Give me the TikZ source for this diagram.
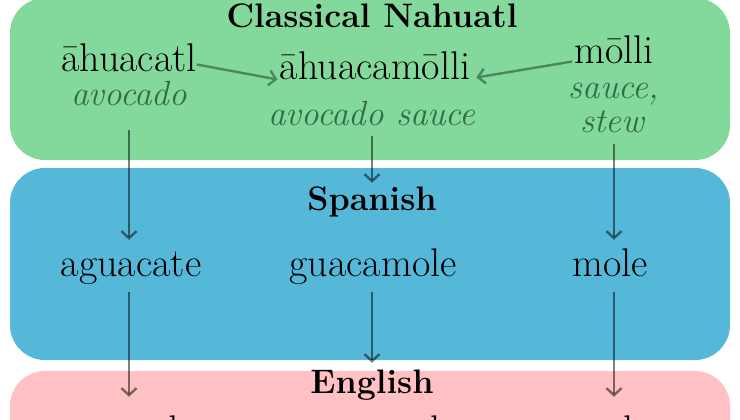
\documentclass[tikz,border=0pt]{standalone}
\usepackage{fontspec}
\usetikzlibrary{
    arrows.meta,
    positioning
}
\definecolor{nahuatl green}{RGB}{131,217,155}
\definecolor{spanish blue}{RGB}{86,184,217}
\definecolor{english pink}{RGB}{255,193,195}
\definecolor{gloss green}{RGB}{50,108,70}
\definecolor{compound green}{RGB}{74,136,95}
\tikzset{
    % Bands
    lang band/.style={rounded corners=35pt,draw=none},
    %
    % Texts
    lang label/.style={font=\fontsize{34}{38}\selectfont\bfseries,inner sep=0pt,anchor=base,text height=24pt,text depth=7pt},
    word/.style={font=\fontsize{40}{44}\selectfont,inner sep=0pt,anchor=base,text height=28pt,text depth=9pt},
    gloss/.style={font=\fontsize{35}{38}\selectfont\itshape,text=gloss green,inner sep=0pt,anchor=base,text height=19pt,text depth=7pt},
    %
    % Arrows
    arrow tip/.tip={Straight Barb[length=7pt,width=15pt,line width=2.4pt]},
    arr/.style={->,>={arrow tip},line width=2.4pt},
    compound arr/.style={arr,draw=compound green},
    descent arr/.style={arr,draw=black,draw opacity=.5}
}

\begin{document}
\begin{tikzpicture}[x=1pt,y=-1pt]
    \useasboundingbox (0,0) rectangle (740,420);
    % language bands
    \fill[lang band,nahuatl green] (10,-2) rectangle (730,160);
    \fill[lang band,spanish blue] (10,168) rectangle (730,360);
    \fill[lang band,english pink] (10,371) rectangle (730,540);
    %
    % Classical Nahuatl
    \node[lang label] (nahuatl) at (372,28) {Classical Nahuatl};
    \node[word] (ahuacatl) at (129,72) {āhuacatl};
    \node[word] (ahuacamolli) at (375,80) {āhuacamōlli};
    \node[word] (molli) at (614,64) {mōlli};
    \node[gloss] (avocado gloss) at (129,106) {avocado};
    \node[gloss] (sauce gloss) at (372,126) {avocado sauce};
    \node[gloss] (molli gloss) at (614,99) {sauce,};
    \node[gloss] (stew gloss) at (612,132) {stew};
    \draw[compound arr] ([yshift=-2pt]ahuacatl.east) -- ([xshift=-2pt,yshift=-9pt]ahuacamolli.west);
    \draw[compound arr] ([xshift=-2pt,yshift=-7pt]molli.west) -- ([xshift=6pt,yshift=-7pt]ahuacamolli.east);
    %
    % Spanish
    \node[lang label] (spanish) at (372,210) {Spanish};
    \node[word] (aguacate) at (131,276) {aguacate};
    \node[word] (guacamole es) at (373,276) {guacamole};
    \node[word] (mole es) at (610,276) {mole};
    \draw[descent arr,shorten <=17pt,shorten >=8pt] (avocado gloss.south) -- (avocado gloss.south |- aguacate.north);
    \draw[descent arr,shorten <=3pt,shorten >=3pt] (sauce gloss.south) -- (sauce gloss.south |- spanish.north);
    \draw[descent arr,shorten <=5pt,shorten >=8pt] (stew gloss.south -| molli) -- (molli |- mole es.north);
    %
    % English
    \node[lang label] (english) at (372,393) {English};
    \node[word] (avocado) at (133,443) {avocado};
    \node[word] (guacamole en) at (373,443) {guacamole};
    \node[word] (mole en) at (612,443) {mole};
    \draw[descent arr,shorten <=7pt,shorten >=18pt] (avocado gloss.south |- aguacate.south) -- (avocado gloss.south |- avocado.north);
    \draw[descent arr,shorten <=7pt,shorten >=6pt] (sauce gloss.south |- guacamole es.south) -- (sauce gloss.south |- english.north);
    \draw[descent arr,shorten <=7pt,shorten >=18pt] (molli |- mole es.south) -- (molli |- mole en.north);
\end{tikzpicture}
\end{document}
